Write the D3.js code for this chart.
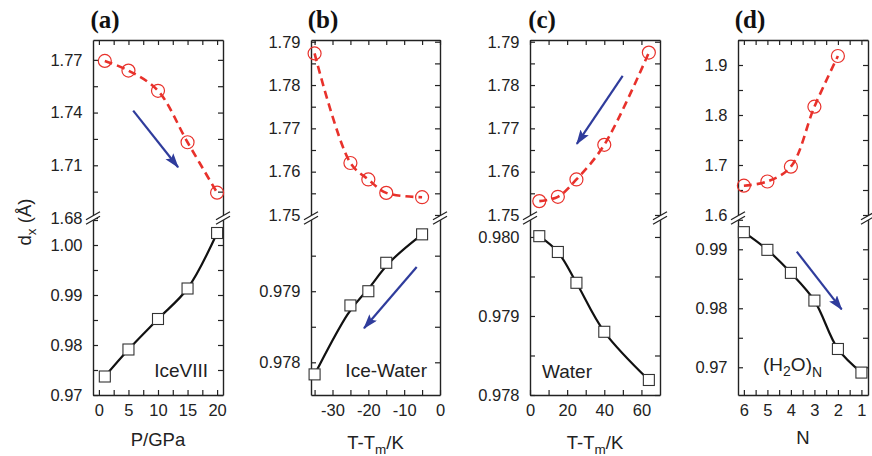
<!DOCTYPE html>
<html>
<head>
<meta charset="utf-8">
<script src="https://cdn.jsdelivr.net/npm/d3@7"></script>
<style>
  body { margin: 0; background: #fff; }
  svg { display: block; font-family: "Liberation Sans", Arial, sans-serif; }
</style>
</head>
<body>
<svg id="chart" width="872" height="456"></svg>
<script>
// (a) ice VIII vs pressure
const pressure = [1, 5, 10, 15, 20];
const iceVIIIHB = [1.7694, 1.7639, 1.7524, 1.7231, 1.6944];
const iceVIIIOH = [0.9737, 0.9791, 0.9852, 0.9913, 1.0024];
// (b) ice-water vs T-Tm
const iceWaterT = [-35, -25, -20, -15, -5];
const iceWaterHB = [1.7873, 1.7620, 1.7582, 1.7551, 1.7541];
const iceWaterOH = [0.97783, 0.97880, 0.97900, 0.97940, 0.97980];
// (c) water vs T-Tm
const waterT = [5, 15, 25, 40, 64];
const waterHB = [1.7532, 1.7542, 1.7582, 1.7662, 1.7875];
const waterOH = [0.98001, 0.97981, 0.97942, 0.97880, 0.97819];
// (d) (H2O)N clusters
const clusterN = [6, 5, 4, 3, 2, 1];
const clusterHB = [1.6586, 1.6670, 1.6966, 1.8166, 1.9180]; // N = 6..2
const clusterOH = [0.9929, 0.9899, 0.9860, 0.9813, 0.9731, 0.9691];

const panelNames = ["(a)", "(b)", "(c)", "(d)"];
const xTickLabels = [[0, 5, 10, 15, 20], [-30, -20, -10, 0], [0, 20, 40, 60], [6, 5, 4, 3, 2, 1]];
const xMinorTicks = [d3.range(0, 20.1, 2.5), d3.range(-35, 0.1, 5), d3.range(0, 60.1, 10), d3.range(1, 6.01, 0.5)];
const topTickLabels = [[1.68, 1.71, 1.74, 1.77], [1.75, 1.76, 1.77, 1.78, 1.79], [1.75, 1.76, 1.77, 1.78, 1.79], [1.6, 1.7, 1.8, 1.9]];
const bottomTickLabels = [[0.97, 0.98, 0.99, 1.00], [0.978, 0.979], [0.978, 0.979, 0.980], [0.97, 0.98, 0.99]];

// arrows, in each panel's data units
const arrowFrom = [[5.8, 1.7411], [-6.5, 0.97934], [49.9, 1.7821], [3.75, 0.9896]];
const arrowTo = [[13.4, 1.7089], [-21.2, 0.97848], [25.2, 1.7664], [1.84, 0.9798]];
const arrowPart = ["top", "bottom", "top", "bottom"];

const series = [
  {hx: pressure, hb: iceVIIIHB, ox: pressure, oh: iceVIIIOH},
  {hx: iceWaterT, hb: iceWaterHB, ox: iceWaterT, oh: iceWaterOH},
  {hx: waterT, hb: waterHB, ox: waterT, oh: waterOH},
  {hx: clusterN.slice(0, 5), hb: clusterHB, ox: clusterN, oh: clusterOH}
];

// layout
const TOP = 40, BREAK = 218, BOTTOM = 395;
const boxes = [[93, 223], [311, 440], [530, 660], [738, 868]];
const xDomains = [[-1, 21], [-36, 0], [0, 70], [6.25, 0.72]];
const topDomains = [[1.68, 1.7813], [1.7493, 1.7904], [1.7493, 1.7904], [1.594, 1.95]];
const bottomDomains = [[0.97, 1.0054], [0.97754, 0.98003], [0.978, 0.98024], [0.9653, 0.9953]];
const topFormats = [".2f", ".2f", ".2f", ".1f"];
const bottomFormats = [".2f", ".3f", ".3f", ".2f"];
const titleBase = [446, 449, 449, 444];

const RED = "#e8312b", BLUE = "#2f3c9c", INK = "#222";

const svg = d3.select("#chart");

svg.append("defs").append("marker")
  .attr("id", "head")
  .attr("markerUnits", "userSpaceOnUse")
  .attr("markerWidth", 16).attr("markerHeight", 12)
  .attr("refX", 14).attr("refY", 5)
  .attr("orient", "auto")
  .append("path")
  .attr("d", "M0,0 L15,5 L0,10 L3,5 Z")
  .attr("fill", BLUE);

const near = (arr, v) => arr.some(a => Math.abs(a - v) < 1e-9);
const halves = (majors, dom) => {
  const step = majors[1] - majors[0];
  const lo = Math.min(...dom), hi = Math.max(...dom);
  const out = [];
  majors.concat([majors[0] - step]).forEach(m => {
    [m, m + step / 2].forEach(v => { if (v >= lo - 1e-6 && v <= hi + 1e-6) out.push(v); });
  });
  return out;
};

function styleAxis(sel) {
  sel.select(".domain").attr("stroke", INK).attr("stroke-width", 1.4);
  sel.selectAll(".tick line").attr("stroke", INK).attr("stroke-width", 1.2);
  sel.selectAll(".tick text").attr("fill", INK).attr("font-size", 16.5)
    .attr("font-family", "'Liberation Sans', Arial, sans-serif");
}

function breakMark(g, x0) {
  const gap = 2.2;
  g.append("path")
    .attr("d", `M${x0 - 7},${BREAK + 4 + gap} L${x0 + 7},${BREAK - 4 + gap} L${x0 + 7},${BREAK - 4 - gap} L${x0 - 7},${BREAK + 4 - gap} Z`)
    .attr("fill", "#fff");
  [gap, -gap].forEach(o => {
    g.append("line")
      .attr("x1", x0 - 7).attr("y1", BREAK + 4 + o)
      .attr("x2", x0 + 7).attr("y2", BREAK - 4 + o)
      .attr("stroke", INK).attr("stroke-width", 1.2);
  });
}

boxes.forEach(([L, R], i) => {
  const g = svg.append("g");
  const x = d3.scaleLinear().domain(xDomains[i]).range([L, R]);
  const yT = d3.scaleLinear().domain(topDomains[i]).range([BREAK, TOP]);
  const yB = d3.scaleLinear().domain(bottomDomains[i]).range([BOTTOM, BREAK]);

  const xAll = xMinorTicks[i];
  const tAll = halves(topTickLabels[i], topDomains[i]);
  const bAll = halves(bottomTickLabels[i], bottomDomains[i]);

  g.append("g").attr("transform", `translate(0,${BOTTOM})`)
    .call(d3.axisBottom(x).tickValues(xAll).tickSizeInner(-5).tickSizeOuter(0).tickPadding(9)
      .tickFormat(d => near(xTickLabels[i], d) ? d3.format("d")(d).replace("−", "-") : ""))
    .call(styleAxis);
  g.append("g").attr("transform", `translate(0,${TOP})`)
    .call(d3.axisTop(x).tickValues(xAll).tickSizeInner(-5).tickSizeOuter(0).tickFormat(""))
    .call(styleAxis);

  const tf = d3.format(topFormats[i]), bf = d3.format(bottomFormats[i]);
  g.append("g").attr("transform", `translate(${L},0)`)
    .call(d3.axisLeft(yT).tickValues(tAll).tickSizeInner(-5).tickSizeOuter(0).tickPadding(10.5)
      .tickFormat(d => near(topTickLabels[i], d) ? tf(d) : ""))
    .call(styleAxis);
  g.append("g").attr("transform", `translate(${L},0)`)
    .call(d3.axisLeft(yB).tickValues(bAll).tickSizeInner(-5).tickSizeOuter(0).tickPadding(10.5)
      .tickFormat(d => near(bottomTickLabels[i], d) ? bf(d) : ""))
    .call(styleAxis);
  g.append("g").attr("transform", `translate(${R},0)`)
    .call(d3.axisRight(yT).tickValues(tAll).tickSizeInner(-5).tickSizeOuter(0).tickFormat(""))
    .call(styleAxis);
  g.append("g").attr("transform", `translate(${R},0)`)
    .call(d3.axisRight(yB).tickValues(bAll).tickSizeInner(-5).tickSizeOuter(0).tickFormat(""))
    .call(styleAxis);

  breakMark(g, L);
  breakMark(g, R);

  const s = series[i];
  const hbPts = s.hx.map((v, k) => [x(v), yT(s.hb[k])]);
  const ohPts = s.ox.map((v, k) => [x(v), yB(s.oh[k])]);
  const smooth = d3.line().curve(d3.curveCatmullRom.alpha(0.5));
  const fitted = i === 1 ? d3.line().curve(d3.curveBasis) : smooth;

  g.selectAll(".hb").data(hbPts).enter().append("circle")
    .attr("cx", d => d[0]).attr("cy", d => d[1]).attr("r", 6.5)
    .attr("fill", "none").attr("stroke", RED).attr("stroke-width", 1.2);
  g.append("path").attr("d", smooth(hbPts))
    .attr("fill", "none").attr("stroke", RED).attr("stroke-width", 2.6)
    .attr("stroke-dasharray", "8,5");

  g.append("path").attr("d", fitted(ohPts))
    .attr("fill", "none").attr("stroke", "#111").attr("stroke-width", 2.2);
  g.selectAll(".oh").data(ohPts).enter().append("rect")
    .attr("x", d => d[0] - 5.5).attr("y", d => d[1] - 5.5)
    .attr("width", 11).attr("height", 11)
    .attr("fill", "#fff").attr("stroke", "#333").attr("stroke-width", 1.1);

  const ya = arrowPart[i] === "top" ? yT : yB;
  g.append("line")
    .attr("x1", x(arrowFrom[i][0])).attr("y1", ya(arrowFrom[i][1]))
    .attr("x2", x(arrowTo[i][0])).attr("y2", ya(arrowTo[i][1]))
    .attr("stroke", BLUE).attr("stroke-width", 2.2)
    .attr("marker-end", "url(#head)");

  g.append("text")
    .attr("x", L + 12).attr("y", 28)
    .attr("text-anchor", "middle")
    .attr("font-family", "'Liberation Serif', 'Times New Roman', serif")
    .attr("font-weight", "bold").attr("font-size", 25)
    .attr("fill", "#111")
    .text(panelNames[i]);

  // x-axis title
  const t = g.append("text")
    .attr("x", (L + R) / 2).attr("y", titleBase[i])
    .attr("text-anchor", "middle").attr("font-size", 18.5).attr("fill", INK);
  if (i === 0) t.text("P/GPa");
  else if (i === 3) t.text("N");
  else {
    t.append("tspan").text("T-T");
    t.append("tspan").attr("font-size", 13.5).attr("dy", 5).text("m");
    t.append("tspan").attr("dy", -5).text("/K");
  }
});

// phase labels
const phase = svg.append("g").attr("font-size", 19).attr("fill", INK);
phase.append("text").attr("x", 208).attr("y", 377).attr("text-anchor", "end").text("IceVIII");
phase.append("text").attr("x", 427).attr("y", 377).attr("text-anchor", "end").text("Ice-Water");
phase.append("text").attr("x", 542).attr("y", 378).text("Water");
const h2o = phase.append("text").attr("x", 763).attr("y", 371);
h2o.append("tspan").text("(H");
h2o.append("tspan").attr("font-size", 14).attr("dy", 5).text("2");
h2o.append("tspan").attr("dy", -5).text("O)");
h2o.append("tspan").attr("font-size", 14).attr("dy", 6).text("N");

// y-axis title
const yt = svg.append("text")
  .attr("transform", "translate(31,222) rotate(-90)")
  .attr("text-anchor", "middle").attr("font-size", 18.5).attr("fill", INK);
yt.append("tspan").text("d");
yt.append("tspan").attr("font-size", 13.5).attr("dy", 5).text("x");
yt.append("tspan").attr("dy", -5).text(" (Å)");
</script>
</body>
</html>
